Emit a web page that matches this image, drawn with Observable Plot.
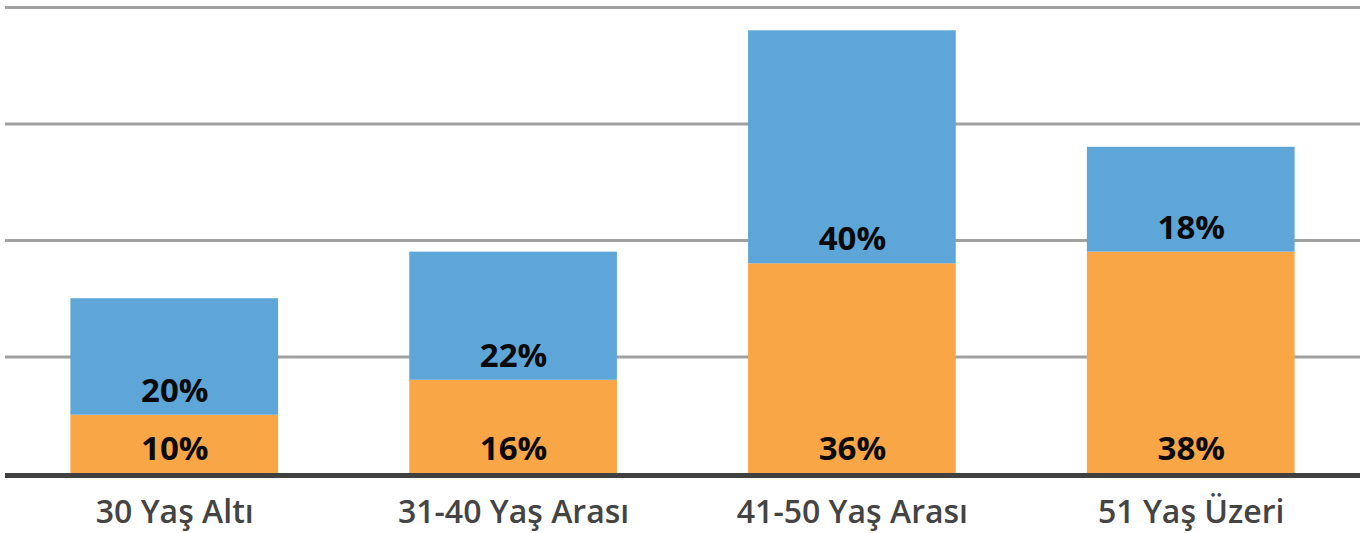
<!DOCTYPE html>
<html>
<head>
<meta charset="utf-8">
<script src="https://cdn.jsdelivr.net/npm/d3@7"></script>
<script src="https://cdn.jsdelivr.net/npm/@observablehq/plot@0.6"></script>
<style>
  html, body { margin: 0; padding: 0; background: #fff; }
  #chart svg { display: block; }
</style>
</head>
<body>
<div id="chart"></div>
<script>
const categories = ["30 Yaş Altı", "31-40 Yaş Arası", "41-50 Yaş Arası", "51 Yaş Üzeri"];
const seriesNames = ["Seri 1", "Seri 2"];
const orangeValues = [10, 16, 36, 38];
const blueValues = [20, 22, 40, 18];
const gridTicks = [20, 40, 60, 80];

const orangeColor = "#F9A647";
const blueColor = "#5FA6D8";

const rows = [];
categories.forEach((c, i) => {
  rows.push({cat: c, series: seriesNames[0], value: orangeValues[i], base: 0, label: orangeValues[i] + "%"});
  rows.push({cat: c, series: seriesNames[1], value: blueValues[i], base: orangeValues[i], label: blueValues[i] + "%"});
});

const font = "'Open Sans', 'DejaVu Sans', sans-serif";

const chart = Plot.plot({
  width: 1370,
  height: 533,
  marginLeft: 5,
  marginRight: 10,
  marginTop: 7,
  marginBottom: 60,
  style: {fontFamily: font, background: "#fff"},
  x: {domain: categories, paddingInner: 0.387, paddingOuter: 0.193, label: null, round: false},
  y: {domain: [0, 80], axis: null},
  color: {type: "ordinal", domain: seriesNames, range: [orangeColor, blueColor]},
  marks: [
    Plot.gridY(gridTicks, {stroke: "#a0a0a0", strokeOpacity: 1, strokeWidth: 3}),
    Plot.barY(rows, Plot.stackY({x: "cat", y: "value", fill: "series", order: seriesNames})),
    Plot.text(rows, {
      x: "cat", y: "base", text: "label", dy: -24,
      fontSize: 33, fontWeight: 700, fill: "#0a0a0a", fontFamily: font
    }),
    Plot.ruleY([0], {stroke: "#404040", strokeWidth: 5, dy: 2}),
    Plot.axisX({
      tickSize: 0, tickPadding: 27, fontSize: 32, fontWeight: 600,
      fill: "#444", fontFamily: font, label: null
    })
  ]
});

document.getElementById("chart").appendChild(chart);
</script>
</body>
</html>
